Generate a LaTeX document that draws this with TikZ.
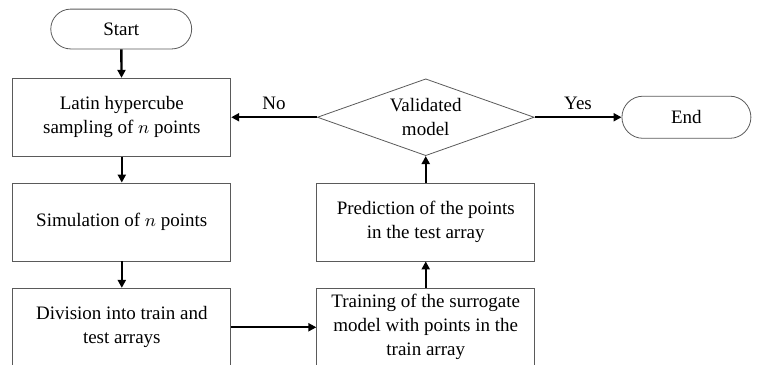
\documentclass[tikz,border=0pt]{standalone}
\usepackage{fontspec}
\setmainfont{Liberation Serif}
\usetikzlibrary{arrows.meta, positioning, shapes.geometric, shapes.misc}
\definecolor{flowLine}{HTML}{5A5A5A}

\begin{document}
\begin{tikzpicture}[>={Triangle[length=4pt,width=4pt]}, font=\fontsize{9.5}{12}\selectfont,
    process/.style={draw=flowLine, thin, minimum width=3.83cm, minimum height=1.37cm,
                    align=center, inner sep=2pt},
    terminal/.style={draw=flowLine, thin, rounded rectangle, minimum width=2.71cm,
                     minimum height=0.70cm},
    decision/.style={draw=flowLine, thin, diamond, aspect=2.8, minimum width=3.81cm,
                     minimum height=1.35cm, align=center, inner sep=0pt},
    flow/.style={->, line width=1.2pt, draw=black}]

  \useasboundingbox (0,0) rectangle (13.30,-6.41);

  \node[terminal] (start) at (2.13,-0.51)  {Start};
  \node[process]  (lhs)   at (2.14,-2.06)  {Latin hypercube\\sampling of $n$ points};
  \node[process]  (sim)   at (2.14,-3.90)  {Simulation of $n$ points};
  \node[process]  (split) at (2.14,-5.75)  {Division into train and\\test arrays};
  \node[process]  (train) at (7.48,-5.75)  {Training of the surrogate\\model with points in the\\train array};
  \node[process]  (pred)  at (7.48,-3.90)  {Prediction of the points\\in the test array};
  \node[decision] (valid) at (7.48,-2.06)  {Validated\\model};
  \node[terminal, minimum width=2.50cm, minimum height=0.74cm] (stop) at (12.06,-2.06) {End};

  \foreach \a/\b in {start/lhs,lhs/sim,sim/split,split/train,train/pred,pred/valid} {
    \draw[flow] (\a) -- (\b);
  }

  \draw[flow] (valid) -- node[above] {No} (lhs);
  \draw[flow] (valid) -- node[above] {Yes} (stop);

\end{tikzpicture}
\end{document}
